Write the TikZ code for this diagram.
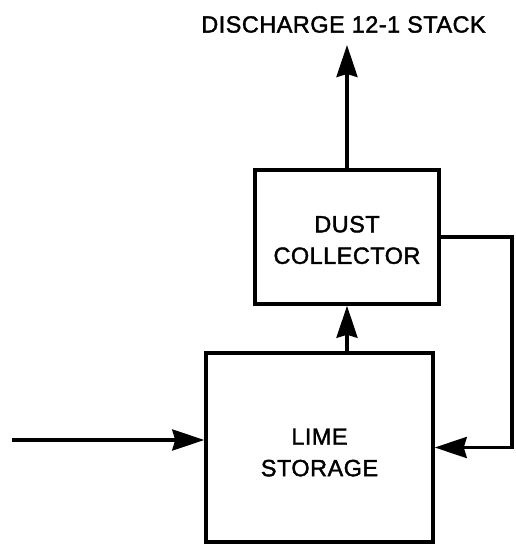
\documentclass[tikz,border=0pt]{standalone}
\usepackage{fontspec}
\setmainfont{Liberation Sans}
\newfontfamily\diagfont{Liberation Sans}[BoldFont={Liberation Sans},BoldFeatures={FakeBold=1.6},LetterSpace=2]
\usetikzlibrary{arrows.meta}
\begin{document}
\begin{tikzpicture}[x=1pt,y=-1pt,
  box/.style={draw, line width=3.5pt, inner sep=0pt},
  boxtext/.style={align=center, inner sep=0pt,
    font=\diagfont\bfseries\fontsize{23.5}{31.5}\selectfont},
  flow/.style={line width=3.5pt, -{Stealth[length=32pt,width=21pt,inset=3pt]}},
  lbl/.style={font=\diagfont\bfseries\fontsize{23.5}{28}\selectfont, inner sep=0pt}]
\useasboundingbox (0,0) rectangle (515,545);
\node[box, minimum width=184pt, minimum height=134pt] (dust) at (347,237) {};
\node[boxtext] (dusttext) at ([yshift=-3pt]dust.center) {DUST\\COLLECTOR};
\node[box, minimum width=227pt, minimum height=189pt] (lime) at (319.5,447.5) {};
\node[boxtext] (limetext) at ([yshift=-5pt]lime.center) {LIME\\STORAGE};
\node[lbl] (title) at (343.5,24.5) {DISCHARGE 12-1 STACK};
\coordinate (top) at (347,45);
\coordinate (rx) at (512,300);
\coordinate (in) at (12,440);
\draw[flow] (dust.north) -- (top);
\draw[flow] (lime.north -| dust.south) -- (dust.south);
\draw[flow] (dust.east) -| (rx) |- (lime.east);
\draw[flow] (in) -- (in -| lime.west);
\end{tikzpicture}
\end{document}
